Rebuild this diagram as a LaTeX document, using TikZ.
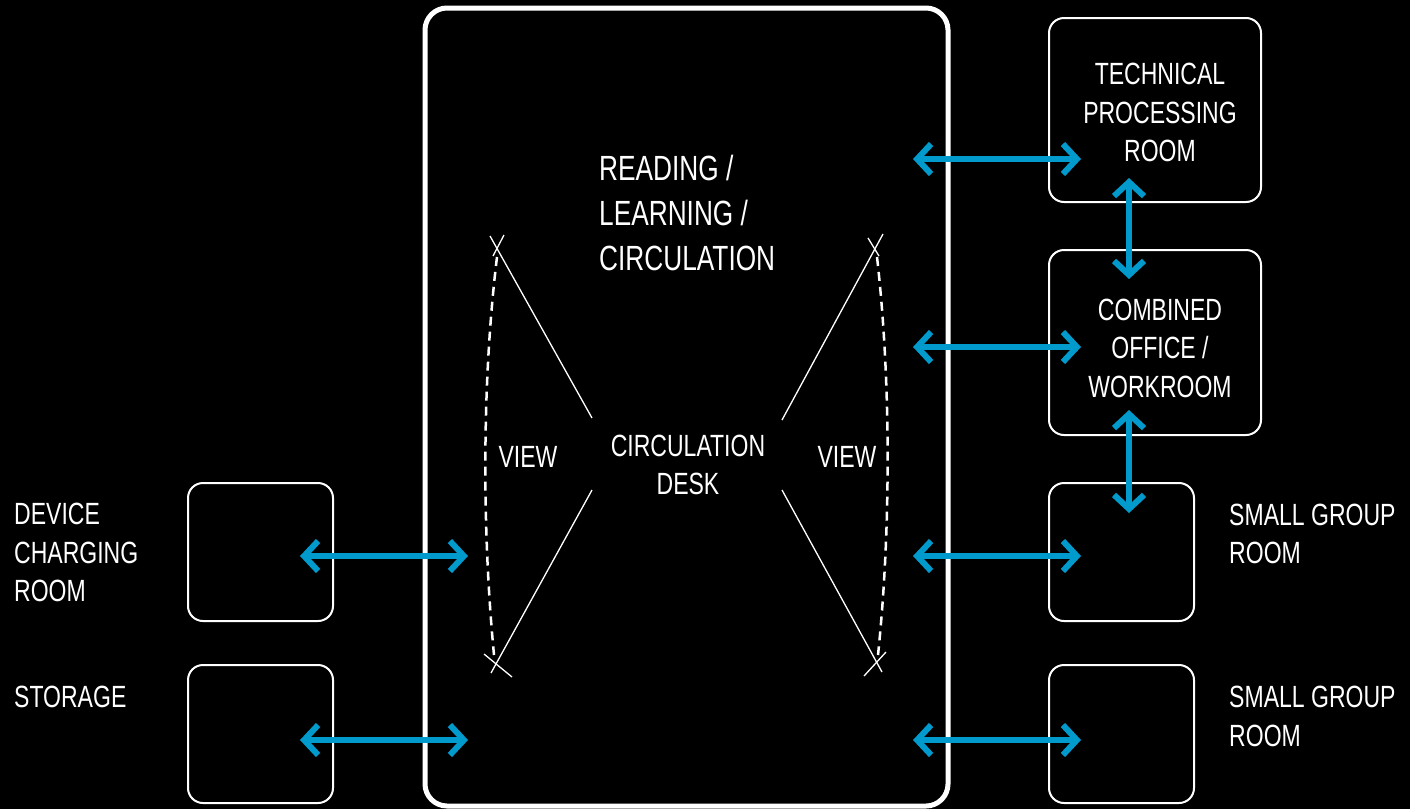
\documentclass[tikz,border=0pt]{standalone}
\usepackage{fontspec}
\setmainfont{Liberation Sans}[FakeStretch=0.75]
\usetikzlibrary{arrows.meta}
\definecolor{arrowblue}{RGB}{0,155,204}
\begin{document}
\begin{tikzpicture}[x=1pt,y=-1pt,
  room/.style={draw=white, line width=2pt, rounded corners=15pt, inner sep=0pt},
  lbl/.style={text=white, inner sep=0pt, font=\fontsize{30.7}{38.5}\selectfont},
  biglbl/.style={text=white, inner sep=0pt, font=\fontsize{35}{45}\selectfont},
  link/.style={draw=arrowblue, line width=6pt,
    {Straight Barb[length=14pt,width=30pt]}-{Straight Barb[length=14pt,width=30pt]}},
  sight/.style={draw=white, line width=1.3pt},
  fov/.style={draw=white, line width=2.5pt, dash pattern=on 9pt off 6pt}]
\fill[black] (0,0) rectangle (1410,809);
\useasboundingbox (0,0) rectangle (1410,809);
% main space
\node[draw=white, line width=5pt, rounded corners=22pt, inner sep=0pt,
  minimum width=523pt, minimum height=798pt] (main) at (686.5,407) {};
% rooms
\node[room, minimum width=212pt, minimum height=184pt] (tpr) at (1155,110) {};
\node[room, minimum width=212pt, minimum height=185pt] (cow) at (1155,342.5) {};
\node[room, minimum width=145pt, minimum height=138pt] (sg1) at (1121.5,552) {};
\node[room, minimum width=145pt, minimum height=138pt] (sg2) at (1121.5,734) {};
\node[room, minimum width=145pt, minimum height=138pt] (dcr) at (260.5,552) {};
\node[room, minimum width=145pt, minimum height=138pt] (sto) at (260.5,734) {};
% labels
\node[biglbl, align=left, anchor=west] (rlc) at (599,212.5) {READING /\\LEARNING /\\CIRCULATION};
\node[lbl, align=center] (desk) at (688,465) {CIRCULATION\\DESK};
\node[lbl] (viewl) at (528,457) {VIEW};
\node[lbl] (viewr) at (847,457) {VIEW};
\node[lbl, align=center] (tprl) at (1160,112.5) {TECHNICAL\\PROCESSING\\ROOM};
\node[lbl, align=center] (cowl) at (1160,348) {COMBINED\\OFFICE /\\WORKROOM};
\node[lbl, align=left, anchor=west] (sg1l) at (1229,534) {SMALL GROUP\\ROOM};
\node[lbl, align=left, anchor=west] (sg2l) at (1229,716.5) {SMALL GROUP\\ROOM};
\node[lbl, align=left, anchor=west] (dcrl) at (14,552.5) {DEVICE\\CHARGING\\ROOM};
\node[lbl, anchor=west] (stol) at (14,697) {STORAGE};
% arrow ends
\coordinate (h1a) at (913,159);  \coordinate (h1b) at (1081,159);
\coordinate (h2a) at (913,347);  \coordinate (h2b) at (1081,347);
\coordinate (h3a) at (913,556);  \coordinate (h3b) at (1081,556);
\coordinate (h4a) at (913,740);  \coordinate (h4b) at (1081,740);
\coordinate (l1a) at (300,556);  \coordinate (l1b) at (468,556);
\coordinate (l2a) at (300,740);  \coordinate (l2b) at (468,740);
\coordinate (v1a) at (1129,178); \coordinate (v1b) at (1129,279);
\coordinate (v2a) at (1129,410); \coordinate (v2b) at (1129,513);
\foreach \a/\b in {h1a/h1b,h2a/h2b,h3a/h3b,h4a/h4b,l1a/l1b,l2a/l2b,v1a/v1b,v2a/v2b}
  \draw[link] (\a) -- (\b);
% view cones
\coordinate (xlt) at (497,249);
\coordinate (xlb) at (496,662);
\coordinate (xrt) at (876,250);
\coordinate (xrb) at (877,662);
\draw[sight] (490,236) -- (592,418);
\draw[sight] (504,235) -- (493,256);
\draw[sight] (592,490) -- (491,673);
\draw[sight] (484,654) -- (512,677);
\draw[sight] (883,234) -- (782,420);
\draw[sight] (868,238) -- (879,256);
\draw[sight] (782,490) -- (882,672);
\draw[sight] (864,676) -- (886,652);
\draw[fov] (497,257) .. controls (482,380) and (482,530) .. (494,655);
\draw[fov] (877,257) .. controls (891,380) and (891,530) .. (878,655);
\end{tikzpicture}
\end{document}
